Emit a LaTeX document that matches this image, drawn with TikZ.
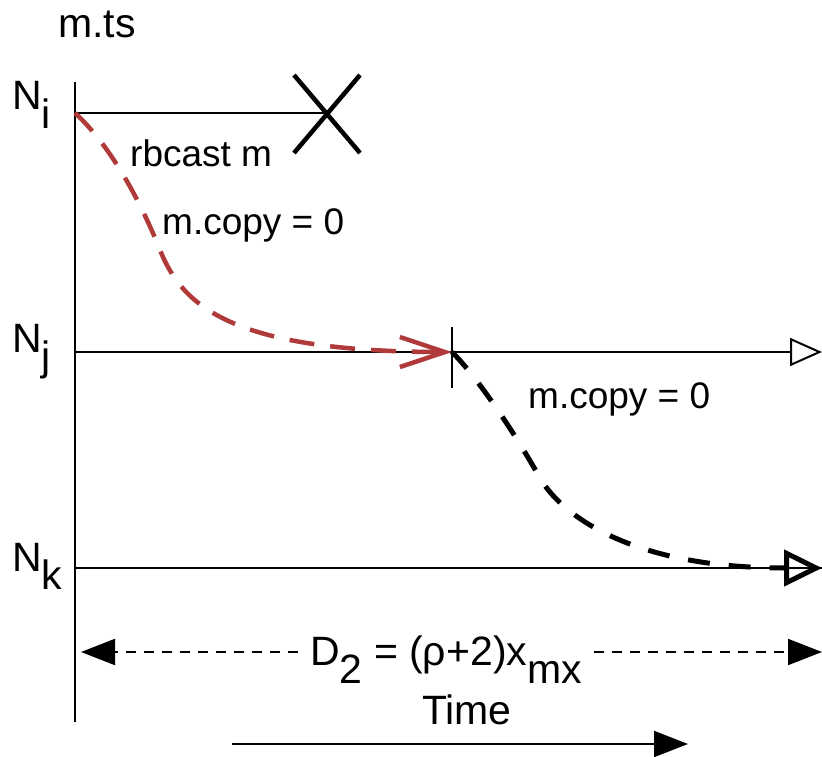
\documentclass[tikz,border=0pt]{standalone}
\usepackage{fontspec}
\setmainfont{Liberation Sans}
\usetikzlibrary{arrows.meta}
\definecolor{rbred}{HTML}{B0393A}
\newcommand\lowsub[1]{\raisebox{-0.45em}{#1}}

\begin{document}
\begin{tikzpicture}[
  x=1pt,y=-1pt,
  lbl/.style={font=\fontsize{37}{40}\selectfont,inner sep=0pt},
  big/.style={font=\fontsize{41}{44}\selectfont,inner sep=0pt},
  tl/.style={line width=2pt},
  crashmark/.style={line width=4.5pt},
  msgred/.style={draw=rbred,line width=4.5pt,dash pattern=on 25pt off 16pt,-{Straight Barb[length=45pt,width=30pt]}},
  msgblack/.style={line width=5pt,dash pattern=on 22pt off 19pt,-{Triangle[open,length=38pt,width=36pt]}},
  dim/.style={line width=2pt,dash pattern=on 10pt off 8pt,-{Triangle[length=34pt,width=26pt]}}
]
\useasboundingbox (0,0) rectangle (822,757);
\coordinate (top) at (75,82);
\coordinate (bot) at (75,722);
\coordinate (ni) at (75,113);
\coordinate (crash) at (327,113);
\coordinate (nj) at (75,352);
\coordinate (njend) at (822,352);
\coordinate (recv) at (452,352);
\coordinate (nk) at (75,568);
\coordinate (nkend) at (822,568);
\coordinate (dl) at (81,652);
\coordinate (dr) at (822,652);
\coordinate (tstart) at (232,744);
\coordinate (tend) at (688,744);

\node[big,anchor=base] (mts) at (97,38) {m.ts};
\node[big,anchor=base west] (lni) at (12,110) {N\lowsub{i}};
\node[big,anchor=base west] (lnj) at (12,352) {N\lowsub{j}};
\node[big,anchor=base west] (lnk) at (12,571) {N\lowsub{k}};
\node[lbl,anchor=base west] (rb) at (130,167) {rbcast m};
\node[lbl,anchor=base west] (cp1) at (162,234) {m.copy = 0};
\node[lbl,anchor=base west] (cp2) at (528,408) {m.copy = 0};
\node[big,anchor=base west,inner xsep=12pt] (d2) at (298,665) {D\lowsub{2} = (ρ+2)x\lowsub{mx}};
\node[big,anchor=base] (time) at (467,724) {Time};

\draw[tl] (top) -- (bot);
\draw[tl] (ni) -- (crash);
\draw[crashmark] (crash) +(-33,-38) -- +(33,40) +(-33,40) -- +(33,-38);
\draw[tl,-{Triangle[open,length=32pt,width=28pt]}] (nj) -- (njend);
\draw[tl] (recv) +(0,-25) -- +(0,36);
\draw[tl] (nk) -- (nkend);
\draw[msgred] (ni) .. controls (110,145) and (140,200) .. (160,250)
  .. controls (182,305) and (230,352) .. (recv);
\draw[msgblack] (recv) .. controls (475,375) and (510,425) .. (540,478)
  .. controls (557,508) and (620,568) .. (nkend);
\draw[dim] (d2.west |- dl) -- (dl);
\draw[dim] (d2.east |- dr) -- (dr);
\draw[tl,-{Triangle[length=34pt,width=26pt]}] (tstart) -- (tend);
\end{tikzpicture}
\end{document}
